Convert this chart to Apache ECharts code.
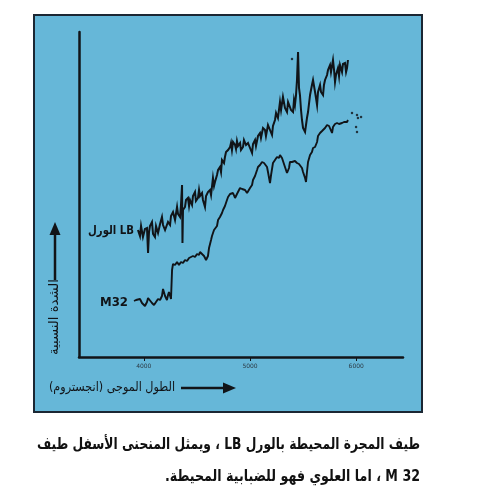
<!DOCTYPE html>
<html>
<head>
<meta charset="utf-8">
<script src="https://cdn.jsdelivr.net/npm/echarts@6/dist/echarts.min.js"></script>
<style>
  html, body { margin: 0; padding: 0; background: #ffffff; }
  #chart { width: 480px; height: 500px; direction: rtl; }
</style>
</head>
<body>
<div id="chart"></div>
<script>
// Wavelength axis (Angstrom) and tick labels
const xTicks = [4000, 5000, 6000];

// Spectrum of the nebula surrounding the galaxy (upper curve, "LB")
const lbWave = [3945,3964,3974,3992,4011,4030,4040,4049,4058,4077,4087,4105,4115,4134,4153,4171,4181,4200,4218,4228,4247,4256,4275,4294,4313,4322,4341,4350,4360,4364,4369,4388,4397,4416,4426,4435,4454,4463,4482,4491,4510,4520,4529,4548,4557,4576,4586,4604,4623,4633,4651,4661,4670,4689,4699,4717,4727,4736,4755,4764,4774,4793,4812,4821,4830,4840,4859,4868,4877,4887,4906,4915,4934,4943,4962,4981,5000,5019,5028,5047,5056,5075,5094,5103,5122,5141,5150,5169,5188,5207,5216,5235,5245,5263,5282,5292,5310,5329,5348,5358,5376,5386,5405,5414,5423,5433,5442,5452,5461,5470,5480,5489,5499,5518,5527,5536,5546,5565,5583,5593,5612,5621,5631,5640,5659,5668,5687,5696,5706,5725,5734,5753,5762,5781,5791,5800,5809,5828,5838,5847,5866,5875,5894,5904,5913,5922];
const lbFlux = [127,121,131,120,128,129,104,125,131,135,123,120,131,124,133,140,132,127,125,135,132,141,145,137,150,143,140,152,172,114,147,150,157,159,151,157,152,161,165,156,159,167,161,164,157,150,161,165,167,162,179,171,175,182,187,190,185,197,194,200,205,207,210,214,207,215,212,208,216,211,214,207,210,217,212,214,209,204,213,217,211,221,224,219,229,227,221,232,227,222,231,237,244,239,255,247,260,249,245,255,254,247,245,257,252,262,277,305,269,262,247,237,229,225,227,239,245,262,272,277,265,259,252,265,272,265,262,272,277,282,287,292,285,297,287,275,282,289,281,292,285,293,294,285,289,297];

// Spectrum of M32 (lower curve)
const m32Wave = [3908,3927,3945,3964,3983,4011,4030,4040,4058,4077,4096,4115,4134,4153,4171,4181,4200,4218,4228,4237,4256,4266,4275,4294,4313,4331,4350,4369,4388,4407,4426,4444,4463,4482,4501,4520,4529,4548,4567,4586,4595,4604,4614,4633,4642,4661,4670,4689,4699,4717,4736,4746,4764,4783,4793,4812,4830,4840,4859,4877,4887,4906,4925,4934,4953,4972,4981,5000,5019,5028,5047,5066,5075,5094,5113,5132,5141,5160,5169,5188,5198,5216,5235,5254,5273,5282,5301,5310,5329,5348,5358,5367,5376,5395,5405,5423,5442,5461,5470,5489,5499,5518,5527,5536,5546,5565,5583,5593,5612,5631,5640,5659,5678,5687,5706,5725,5744,5753,5772,5781,5800,5819,5838,5866,5885,5913,5922];
const m32Flux = [56,57,55,58,54,51,55,59,57,54,52,55,58,57,61,68,61,57,62,65,58,87,93,92,95,92,95,94,97,96,99,98,101,100,103,102,105,103,101,97,95,101,109,117,121,127,129,131,137,140,144,147,151,157,160,163,161,164,159,163,162,169,168,166,167,164,165,169,172,177,181,187,190,192,195,194,195,190,185,174,182,194,197,200,199,202,199,197,190,184,182,189,195,195,194,196,194,193,192,189,185,179,175,185,195,202,205,209,210,215,221,224,226,225,229,232,231,229,224,230,233,234,233,234,235,235,237];

// Stray specks printed near the ends of the curves
const speckWave = [5395,5960,5998,6007,6007,6016,6045];
const speckFlux = [298,244,230,242,225,239,240];

// Caption and axis titles
const yTitle = 'الشدة النسبية';
const xTitle = 'الطول الموجى (انجستروم)';
const lbLabel = 'LB الورل';
const m32Label = 'M32';
const captionLines = [
  'طيف المجرة المحيطة بالورل LB ، ويمثل المنحنى الأسفل طيف',
  'M 32 ، اما العلوي فهو للضبابية المحيطة.'
];

const zip = (a, b) => a.map((v, i) => [v, b[i]]);

// horizontal squeeze needed for a text run to occupy a given width
const measureCtx = document.createElement('canvas').getContext('2d');
function fitScale(text, font, width) {
  measureCtx.font = font;
  return width / measureCtx.measureText(text).width;
}

const ink = '#111418';
const panel = '#66b7d8';
const capFont = 'bold 16px "DejaVu Sans"';
const titleFont = '13px "DejaVu Sans"';

const chart = echarts.init(document.getElementById('chart'), null, { renderer: 'canvas' });

chart.setOption({
  animation: false,
  backgroundColor: '#ffffff',
  grid: { left: 79, right: 77, top: 32, bottom: 143, containLabel: false },
  xAxis: {
    type: 'value', min: 3390, max: 6440,
    axisLine: { show: true, lineStyle: { color: ink, width: 2.5 } },
    axisTick: { show: true, customValues: xTicks, length: 4, lineStyle: { color: ink, width: 1 } },
    axisLabel: { show: true, customValues: xTicks, fontSize: 6, color: '#2b3a44', margin: 6,
      fontFamily: 'DejaVu Sans', formatter: v => String(v) },
    splitLine: { show: false }
  },
  yAxis: {
    type: 'value', min: 0, max: 325,
    axisLine: { show: true, lineStyle: { color: ink, width: 2.5 } },
    axisTick: { show: false }, axisLabel: { show: false }, splitLine: { show: false }
  },
  series: [
    {
      name: 'LB', type: 'line', data: zip(lbWave, lbFlux), showSymbol: false, z: 3,
      lineStyle: { color: ink, width: 2, join: 'miter' }
    },
    {
      name: 'M32', type: 'line', data: zip(m32Wave, m32Flux), showSymbol: false, z: 3,
      lineStyle: { color: ink, width: 1.9 }
    },
    {
      name: 'specks', type: 'scatter', data: zip(speckWave, speckFlux), symbolSize: 2.5, z: 3,
      itemStyle: { color: ink }
    }
  ],
  graphic: [
    { type: 'rect', z: -100, shape: { x: 34, y: 15, width: 388, height: 397 },
      style: { fill: panel, stroke: '#1b2733', lineWidth: 2 } },
    // vertical axis title with arrow
    { type: 'text', x: 55, y: 317, rotation: Math.PI / 2,
      scaleX: fitScale(yTitle, titleFont, 76),
      style: { text: yTitle, fill: ink, font: titleFont, align: 'center', verticalAlign: 'middle' } },
    { type: 'line', shape: { x1: 55, y1: 280, x2: 55, y2: 232 }, style: { stroke: ink, lineWidth: 2.5 } },
    { type: 'polygon', shape: { points: [[55, 222], [49.5, 235], [60.5, 235]] }, style: { fill: ink } },
    // horizontal axis title with arrow
    { type: 'text', x: 175, y: 388,
      scaleX: fitScale(xTitle, titleFont, 126),
      style: { text: xTitle, fill: ink, font: titleFont, align: 'right', verticalAlign: 'middle' } },
    { type: 'line', shape: { x1: 181, y1: 388, x2: 226, y2: 388 }, style: { stroke: ink, lineWidth: 2.5 } },
    { type: 'polygon', shape: { points: [[236, 388], [223, 382.5], [223, 393.5]] }, style: { fill: ink } },
    // curve labels
    { type: 'text', x: 134, y: 231,
      scaleX: fitScale(lbLabel, 'bold 12px "DejaVu Sans"', 46),
      style: { text: lbLabel, fill: ink, font: 'bold 12px "DejaVu Sans"', align: 'right', verticalAlign: 'middle' } },
    { type: 'text', x: 128, y: 303,
      scaleX: fitScale(m32Label, 'bold 13px "DejaVu Sans"', 28),
      style: { text: m32Label, fill: ink, font: 'bold 13px "DejaVu Sans"', align: 'right', verticalAlign: 'middle' } },
    // caption
    { type: 'text', x: 420, y: 445,
      scaleX: fitScale(captionLines[0], capFont, 383),
      style: { text: captionLines[0], fill: '#111', font: capFont, align: 'right', verticalAlign: 'middle' } },
    { type: 'text', x: 420, y: 477,
      scaleX: fitScale(captionLines[1], capFont, 255),
      style: { text: captionLines[1], fill: '#111', font: capFont, align: 'right', verticalAlign: 'middle' } }
  ]
});
</script>
</body>
</html>
